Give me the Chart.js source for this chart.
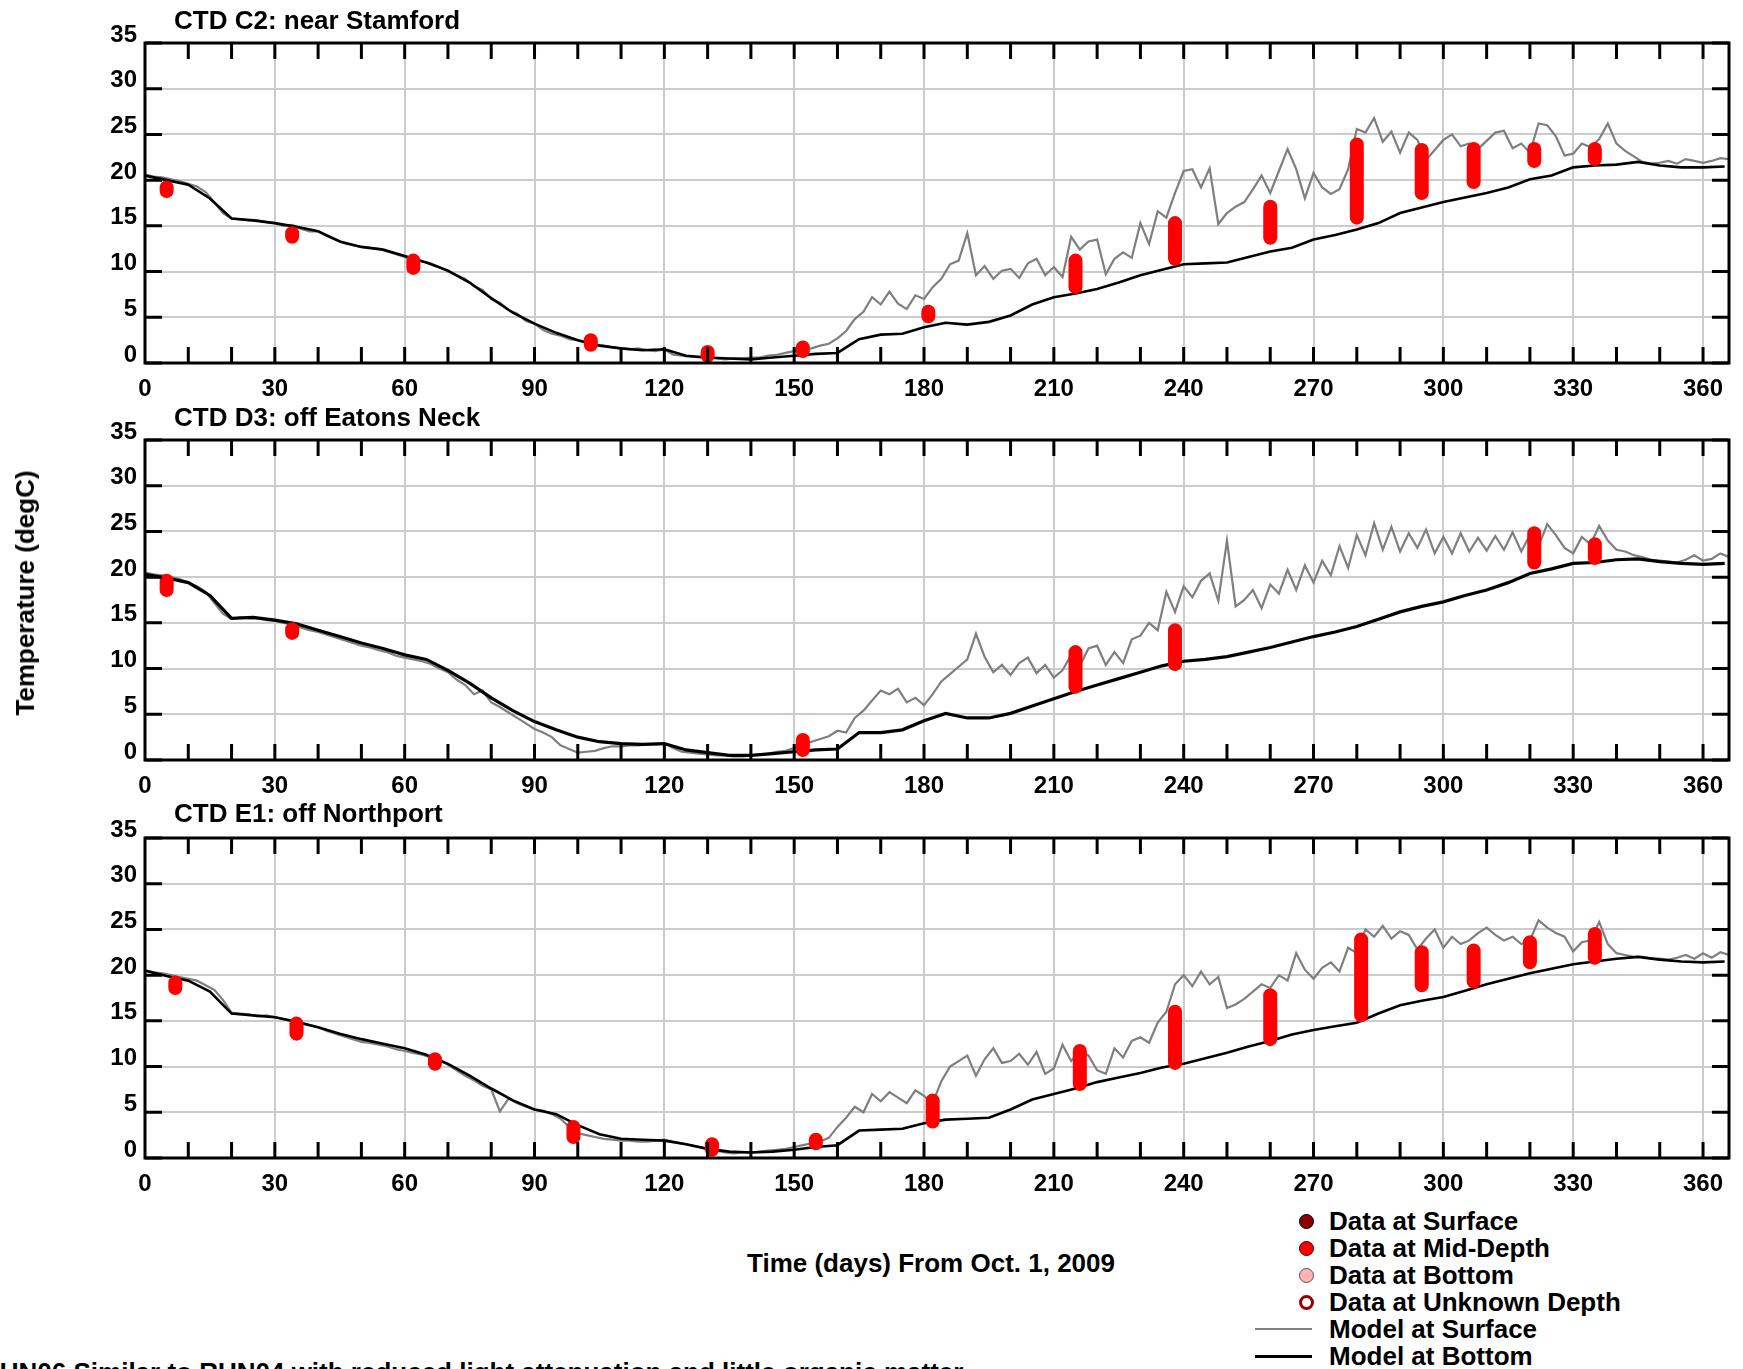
<!DOCTYPE html>
<html>
<head>
<meta charset="utf-8">
<script src="https://cdn.jsdelivr.net/npm/chart.js@4.4.1/dist/chart.umd.min.js"></script>
<style>
  body { margin: 0; width: 1743px; height: 1369px; overflow: hidden; background: #fff; position: relative;
         font-family: "Liberation Sans", Arial, sans-serif; font-weight: bold; color: #000; }
  canvas { position: absolute; left: 0; }
  .txt { position: absolute; white-space: nowrap; font-size: 26px; line-height: 30px; }
  .dot { position: absolute; width: 15px; height: 15px; border-radius: 50%; box-sizing: border-box; }
  .seg { position: absolute; height: 0; }
</style>
</head>
<body>
<canvas id="c0" width="1743" height="400" style="top:0px"></canvas>
<canvas id="c1" width="1743" height="400" style="top:397px"></canvas>
<canvas id="c2" width="1743" height="400" style="top:795px"></canvas>

<div class="txt" style="left:174px; top:5px">CTD C2: near Stamford</div>
<div class="txt" style="left:174px; top:402px">CTD D3: off Eatons Neck</div>
<div class="txt" style="left:174px; top:798px">CTD E1: off Northport</div>

<div class="txt" style="left:25px; top:593px; transform: translate(-50%,-50%) rotate(-90deg)">Temperature (degC)</div>
<div class="txt" style="left:931px; top:1263px; transform: translate(-50%,-50%)">Time (days) From Oct. 1, 2009</div>
<div class="txt" style="left:-19px; top:1357px">RUN06 Similar to RUN04 with reduced light attenuation and little organic matter</div>

<div id="legend"></div>

<script>
// ---- shared axes ----
const dayLabelStep = 30;
const tempMin = 0, tempMax = 35, tempStep = 5;
const dayMin = 0, dayMax = 366;

// ---- CTD C2: near Stamford ----
// model at surface, one value every 2 days (day 0..366)
const c2Surface = [
  20.6, 20.4, 20.3, 20.1, 19.9, 19.6, 19.3, 18.7, 17.6, 16.4, 15.8,
  15.7, 15.6, 15.6, 15.4, 15.3, 15.0, 15.1, 14.7, 14.4, 14.4,
  13.9, 13.5, 13.1, 12.9, 12.7, 12.6, 12.5, 12.2, 11.9, 11.6,
  11.3, 11.1, 10.9, 10.5, 10.0, 9.6, 9.2, 8.4, 8.0, 7.0,
  6.6, 5.8, 5.4, 4.6, 4.3, 3.6, 3.2, 3.0, 2.6, 2.5,
  2.2, 2.0, 1.9, 1.7, 1.6, 1.5, 1.6, 1.4, 1.3, 1.5,
  0.9, 0.8, 0.7, 0.6, 0.6, 0.5, 0.4, 0.5, 0.5, 0.6,
  0.6, 0.8, 0.9, 1.1, 1.3, 1.4, 1.6, 1.9, 2.1, 2.7,
  3.5, 4.8, 5.6, 7.2, 6.4, 7.8, 6.5, 5.9, 7.4, 7.0,
  8.3, 9.2, 10.8, 11.2, 14.2, 9.6, 10.6, 9.2, 10.1, 10.3,
  9.3, 10.9, 11.4, 9.6, 10.5, 9.4, 13.8, 12.4, 13.3, 13.5,
  9.7, 11.4, 12.1, 11.5, 15.3, 13.0, 16.6, 15.9, 18.6, 21.0,
  21.2, 19.2, 21.3, 15.2, 16.4, 17.1, 17.6, 19.0, 20.5, 18.6,
  21.0, 23.4, 21.2, 18.0, 20.8, 19.2, 18.5, 19.0, 21.2, 25.6,
  25.2, 26.8, 24.2, 25.3, 23.0, 25.2, 24.4, 22.2, 23.3, 24.4,
  25.0, 23.7, 24.0, 23.4, 24.3, 25.2, 25.4, 23.5, 24.0, 23.0,
  26.2, 26.0, 24.8, 22.7, 22.9, 24.0, 23.6, 24.5, 26.2, 24.0,
  23.2, 22.6, 22.0, 21.8, 21.9, 22.1, 21.8, 22.3, 22.1, 21.9,
  22.1, 22.4, 22.3
];
// model at bottom, one value every 5 days (day 0..365)
const c2Bottom = [
  20.5, 20.0, 19.5, 18.0, 15.8, 15.6, 15.3, 14.9, 14.4, 13.3,
  12.7, 12.4, 11.7, 11.0, 10.1, 8.8, 7.1, 5.5, 4.3, 3.3,
  2.5, 1.9, 1.6, 1.4, 1.5, 0.8, 0.6, 0.5, 0.4, 0.6,
  0.8, 1.0, 1.1, 2.6, 3.1, 3.2, 3.9, 4.4, 4.2, 4.5,
  5.2, 6.4, 7.2, 7.6, 8.1, 8.8, 9.6, 10.2, 10.8, 10.9,
  11.0, 11.6, 12.2, 12.6, 13.5, 14.0, 14.6, 15.3, 16.4, 17.0,
  17.6, 18.1, 18.6, 19.2, 20.1, 20.5, 21.4, 21.6, 21.7, 22.0,
  21.6, 21.4, 21.4, 21.5
];
const c2CastDay = [5, 34, 62, 103, 130, 152, 181, 215, 238, 260, 280, 295, 307, 321, 335];
const c2CastLo  = [18.8, 13.8, 10.4, 2.0, 0.8, 1.3, 5.1, 8.3, 11.4, 13.7, 15.9, 18.6, 19.8, 22.1, 22.3];
const c2CastHi  = [19.2, 14.2, 11.2, 2.5, 1.2, 1.7, 5.6, 11.2, 15.3, 17.1, 23.9, 23.3, 23.4, 23.4, 23.4];

// ---- CTD D3: off Eatons Neck ----
const d3Surface = [
  20.5, 20.3, 20.2, 20.0, 19.8, 19.4, 19.0, 18.4, 17.2, 16.0, 15.4,
  15.6, 15.5, 15.5, 15.3, 15.2, 15.0, 14.8, 14.5, 14.2, 14.0,
  13.7, 13.4, 13.1, 12.8, 12.5, 12.3, 12.0, 11.8, 11.4, 11.2,
  11.0, 10.8, 10.5, 10.0, 9.6, 8.8, 8.2, 7.2, 7.6, 6.3,
  5.8, 5.2, 4.6, 4.0, 3.4, 3.0, 2.5, 1.6, 1.2, 0.8,
  0.9, 1.0, 1.3, 1.5, 1.5, 1.6, 1.6, 1.7, 1.7, 1.8,
  1.3, 0.9, 0.8, 0.7, 0.6, 0.5, 0.5, 0.4, 0.4, 0.5,
  0.6, 0.7, 0.9, 1.0, 1.3, 1.6, 2.0, 2.3, 2.6, 3.2,
  3.0, 4.6, 5.4, 6.5, 7.6, 7.2, 7.8, 6.3, 6.8, 6.0,
  7.2, 8.6, 9.4, 10.2, 11.0, 13.8, 11.3, 9.6, 10.4, 9.3,
  10.6, 11.2, 9.5, 10.4, 9.0, 9.8, 11.5, 10.3, 12.2, 12.5,
  10.4, 11.8, 10.6, 13.2, 13.6, 15.0, 14.2, 18.4, 16.2, 19.0,
  17.8, 19.6, 20.4, 17.4, 24.0, 16.8, 17.5, 18.6, 16.6, 19.2,
  18.2, 20.8, 18.6, 21.3, 19.4, 21.8, 20.2, 23.4, 21.0, 24.6,
  22.4, 25.9, 23.0, 25.5, 22.8, 24.8, 23.2, 25.2, 22.6, 24.4,
  22.6, 24.8, 22.8, 24.3, 22.9, 24.5, 23.0, 24.9, 22.8, 24.6,
  23.4, 25.8, 24.6, 23.2, 22.6, 24.4, 23.6, 25.6, 24.0, 23.0,
  22.8, 22.4, 22.2, 21.9, 21.8, 21.7, 21.6, 21.9, 22.4, 21.8,
  22.0, 22.6, 22.2
];
const d3Bottom = [
  20.3, 19.9, 19.4, 18.0, 15.5, 15.6, 15.3, 14.9, 14.2, 13.5,
  12.8, 12.2, 11.5, 11.0, 9.8, 8.4, 6.8, 5.4, 4.2, 3.3,
  2.5, 2.0, 1.8, 1.7, 1.8, 1.1, 0.8, 0.5, 0.5, 0.7,
  0.9, 1.1, 1.2, 3.0, 3.0, 3.3, 4.3, 5.1, 4.6, 4.6,
  5.1, 5.9, 6.7, 7.5, 8.2, 8.9, 9.6, 10.3, 10.8, 11.0,
  11.3, 11.8, 12.3, 12.9, 13.5, 14.0, 14.6, 15.4, 16.2, 16.8,
  17.3, 18.0, 18.6, 19.4, 20.4, 20.9, 21.5, 21.6, 21.9, 22.0,
  21.7, 21.5, 21.4, 21.5
];
const d3CastDay = [5, 34, 152, 215, 238, 321, 335];
const d3CastLo  = [18.6, 13.9, 1.1, 8.0, 10.5, 21.6, 22.1];
const d3CastHi  = [19.6, 14.3, 2.2, 11.8, 14.2, 24.8, 23.6];

// ---- CTD E1: off Northport ----
const e1Surface = [
  20.5, 20.3, 20.2, 20.0, 19.8, 19.6, 19.4, 18.9, 18.4, 17.3, 15.9,
  15.8, 15.7, 15.5, 15.6, 15.4, 15.2, 15.0, 14.7, 14.5, 14.3,
  13.9, 13.6, 13.3, 13.0, 12.7, 12.6, 12.4, 12.2, 11.9, 11.7,
  11.5, 11.3, 11.0, 10.7, 10.2, 9.6, 9.0, 8.5, 7.9, 7.5,
  5.1, 6.5, 6.0, 5.6, 5.3, 5.2, 4.8, 4.3, 3.4, 2.7,
  2.5, 2.3, 2.1, 2.0, 1.9, 1.9, 1.8, 1.8, 1.9, 2.0,
  1.8, 1.6, 1.4, 1.2, 1.0, 0.8, 0.6, 0.5, 0.6, 0.6,
  0.7, 0.8, 0.9, 1.0, 1.2, 1.4, 1.6, 1.8, 2.2, 3.4,
  4.4, 5.6, 5.0, 7.0, 6.2, 7.2, 6.6, 6.0, 7.4, 6.8,
  6.0, 8.4, 10.0, 10.6, 11.2, 9.0, 10.8, 12.0, 10.4, 10.6,
  11.4, 10.2, 11.6, 9.2, 9.8, 12.4, 10.6, 11.8, 11.2, 9.6,
  9.2, 12.0, 11.0, 12.8, 13.2, 12.6, 14.8, 16.0, 19.0, 20.0,
  18.8, 20.4, 19.0, 19.8, 16.4, 16.8, 17.4, 18.2, 19.0, 18.6,
  20.0, 19.4, 22.4, 20.6, 19.6, 20.8, 21.4, 20.4, 23.0, 22.4,
  25.0, 24.2, 25.4, 24.0, 24.8, 24.4, 22.8, 24.0, 25.0, 23.0,
  24.2, 23.4, 23.8, 24.6, 25.2, 24.4, 23.8, 24.2, 23.4, 23.8,
  26.0, 25.2, 24.6, 24.2, 22.6, 23.6, 23.8, 25.8, 23.4, 22.4,
  22.2, 22.0, 22.0, 21.8, 21.8, 21.7, 21.9, 22.2, 21.8, 22.4,
  21.9, 22.5, 22.2
];
const e1Bottom = [
  20.5, 19.9, 19.4, 18.2, 15.8, 15.6, 15.4, 14.9, 14.3, 13.6,
  13.0, 12.5, 12.0, 11.3, 10.3, 9.0, 7.6, 6.3, 5.3, 4.8,
  3.6, 2.6, 2.1, 2.0, 1.9, 1.5, 1.0, 0.7, 0.6, 0.7,
  0.9, 1.2, 1.4, 3.0, 3.1, 3.2, 3.8, 4.2, 4.3, 4.4,
  5.3, 6.4, 7.0, 7.6, 8.3, 8.8, 9.3, 9.9, 10.3, 10.9,
  11.5, 12.2, 12.8, 13.5, 14.0, 14.4, 14.8, 15.8, 16.7, 17.2,
  17.6, 18.3, 19.0, 19.6, 20.2, 20.7, 21.2, 21.5, 21.8, 22.0,
  21.7, 21.5, 21.4, 21.5
];
const e1CastDay = [7, 35, 67, 99, 131, 155, 182, 216, 238, 260, 281, 295, 307, 320, 335];
const e1CastLo  = [18.6, 13.6, 10.3, 2.3, 0.9, 1.6, 4.0, 8.1, 10.4, 13.0, 15.6, 18.9, 19.3, 21.4, 21.9];
const e1CastHi  = [19.2, 14.7, 10.8, 3.4, 1.5, 2.0, 6.3, 11.7, 16.0, 17.8, 23.9, 22.5, 22.7, 23.6, 24.5];

const surfaceStep = 2;   // days between surface values
const bottomStep = 5;    // days between bottom values

const legendItems = ['Data at Surface', 'Data at Mid-Depth', 'Data at Bottom',
                     'Data at Unknown Depth', 'Model at Surface', 'Model at Bottom'];

const FONT = 'Liberation Sans, Arial, sans-serif';

// inward ticks on all four sides plus the heavy frame
const frameTicks = {
  id: 'frameTicks',
  afterDatasetsDraw(chart) {
    const { ctx, chartArea: a, scales: { x, y } } = chart;
    ctx.save();
    ctx.strokeStyle = '#000';
    ctx.lineWidth = 3;
    ctx.beginPath();
    for (let d = 10; d <= 360; d += 10) {
      const px = x.getPixelForValue(d);
      ctx.moveTo(px, a.bottom); ctx.lineTo(px, a.bottom - 16);
      ctx.moveTo(px, a.top); ctx.lineTo(px, a.top + 16);
    }
    for (let t = tempMin; t <= tempMax; t += tempStep) {
      const py = y.getPixelForValue(t);
      ctx.moveTo(a.left, py); ctx.lineTo(a.left + 17, py);
      ctx.moveTo(a.right, py); ctx.lineTo(a.right - 17, py);
    }
    ctx.stroke();
    ctx.strokeRect(a.left, a.top, a.right - a.left, a.bottom - a.top);
    ctx.restore();
  }
};

function castPoints(days, lo, hi) {
  const pts = [];
  days.forEach((d, i) => {
    pts.push({ x: d, y: lo[i] }, { x: d, y: hi[i] }, { x: d, y: null });
  });
  return pts;
}

function makePanel(id, surface, bottom, castDay, castLo, castHi, bottomWidth) {
  new Chart(document.getElementById(id), {
    type: 'line',
    data: {
      datasets: [
        {
          data: castPoints(castDay, castLo, castHi),
          borderColor: '#ff0000', borderWidth: 14, borderCapStyle: 'round',
          pointRadius: 0, order: 0
        },
        {
          data: bottom.map((v, i) => ({ x: i * bottomStep, y: v })),
          borderColor: '#000000', borderWidth: bottomWidth, pointRadius: 0, order: 1
        },
        {
          data: surface.map((v, i) => ({ x: i * surfaceStep, y: v })),
          borderColor: '#7f7f7f', borderWidth: 2.2, pointRadius: 0, order: 2
        }
      ]
    },
    options: {
      responsive: false,
      animation: false,
      events: [],
      layout: { padding: { top: 43, right: 14, left: 0, bottom: 0 } },
      plugins: { legend: { display: false }, tooltip: { enabled: false } },
      scales: {
        x: {
          type: 'linear', min: dayMin, max: dayMax,
          afterFit: s => { s.height = 37; },
          border: { display: false },
          grid: { color: '#cccccc', lineWidth: 2, drawTicks: false },
          ticks: {
            stepSize: dayLabelStep, includeBounds: false, autoSkip: false, maxRotation: 0,
            padding: 12, color: '#000', font: { family: FONT, size: 24, weight: 'bold' }
          }
        },
        y: {
          type: 'linear', min: tempMin, max: tempMax,
          afterFit: s => { s.width = 145; },
          border: { display: false },
          grid: { color: '#cccccc', lineWidth: 2, drawTicks: false },
          ticks: {
            stepSize: tempStep, padding: 8, labelOffset: -8,
            color: '#000', font: { family: FONT, size: 24, weight: 'bold' }
          }
        }
      }
    },
    plugins: [frameTicks]
  });
}

makePanel('c0', c2Surface, c2Bottom, c2CastDay, c2CastLo, c2CastHi, 2.6);
makePanel('c1', d3Surface, d3Bottom, d3CastDay, d3CastLo, d3CastHi, 3.2);
makePanel('c2', e1Surface, e1Bottom, e1CastDay, e1CastLo, e1CastHi, 2.6);

// legend
const legend = document.getElementById('legend');
const rowY = [1221, 1248, 1275, 1302, 1329, 1356];
const markers = [
  'background:#8b0000; border:1.5px solid #000',
  'background:#ff0000; border:1.5px solid #400',
  'background:#ffb3b3; border:1.5px solid #555',
  'background:#fff; border:3px solid #990000',
  null, null
];
legendItems.forEach((label, i) => {
  const y = rowY[i];
  if (markers[i]) {
    const d = document.createElement('div');
    d.className = 'dot';
    d.style.cssText = `left:${1306 - 7.5}px; top:${y - 7.5}px; ${markers[i]}`;
    legend.appendChild(d);
  } else {
    const s = document.createElement('div');
    s.className = 'seg';
    s.style.cssText = `left:1255px; width:57px; top:${y - 1}px; border-top:${i === 4 ? '2px solid #808080' : '3px solid #000'}`;
    legend.appendChild(s);
  }
  const t = document.createElement('div');
  t.className = 'txt';
  t.style.cssText = `left:1329px; top:${y - 15}px`;
  t.textContent = label;
  legend.appendChild(t);
});
</script>
</body>
</html>
